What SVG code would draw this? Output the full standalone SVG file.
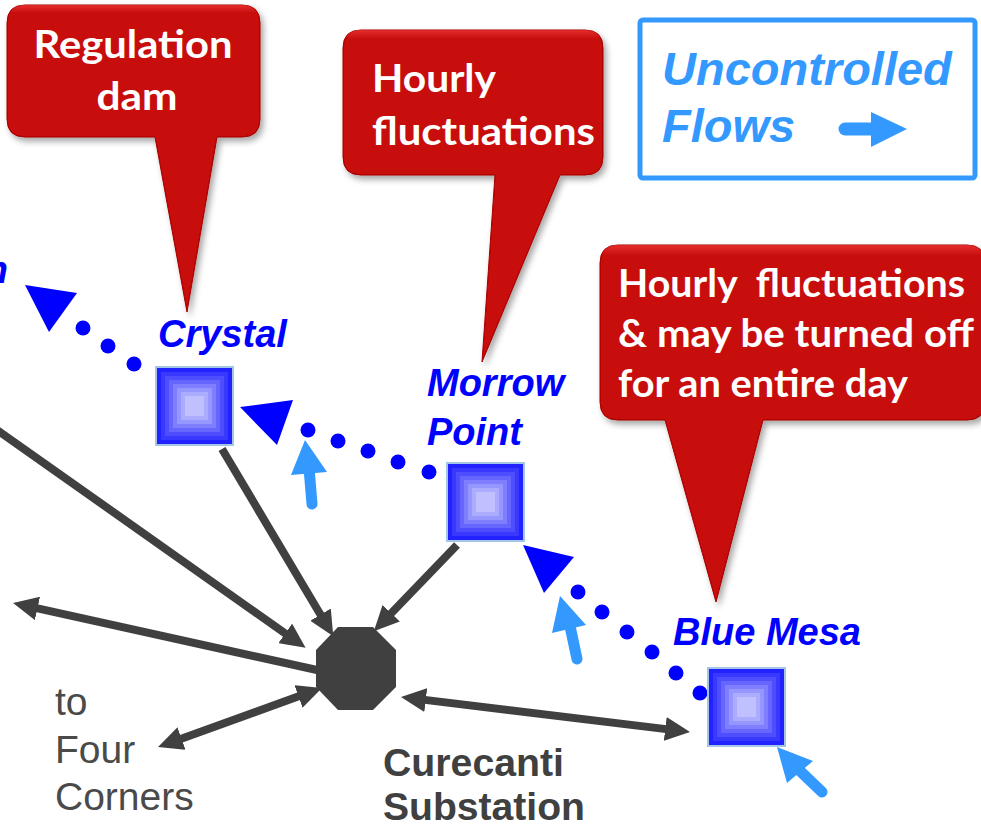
<svg xmlns="http://www.w3.org/2000/svg" width="981" height="829" viewBox="0 0 981 829">
<style>
.call{font-family:"Lato","Open Sans","Liberation Sans",sans-serif;font-weight:bold;font-size:39px;fill:#ffffff;white-space:pre}
.bubble{fill:#c80707;stroke:#a30000;stroke-width:1;filter:url(#shadow)}
.dlabel{font-family:"Liberation Sans",Arial,sans-serif;font-weight:bold;font-style:italic;font-size:38px;fill:#0000ff}
.leg{font-family:"Liberation Sans",Arial,sans-serif;font-weight:bold;font-style:italic;font-size:47px;fill:#3399ff}
.gray{font-family:"Liberation Sans",Arial,sans-serif;font-size:39px;fill:#4a4a4a}
.grayb{font-family:"Liberation Sans",Arial,sans-serif;font-weight:bold;font-size:38px;fill:#404040}
.wire{stroke:#404040;stroke-width:8;fill:none}
.dot{fill:#0000ff}
.flowhead{fill:#0000ff}
.ushaft{stroke:#3399ff;stroke-width:11;stroke-linecap:round;fill:none}
.uhead{fill:#3399ff}
</style>
<defs>
<filter id="shadow" x="-10%" y="-10%" width="130%" height="130%">
<feDropShadow dx="3" dy="4" stdDeviation="3" flood-color="#000" flood-opacity="0.35"/>
</filter>
<linearGradient id="hl" x1="0" y1="0" x2="0" y2="1">
<stop offset="0" stop-color="#ff4a4a" stop-opacity="0.55"/>
<stop offset="0.06" stop-color="#ff4a4a" stop-opacity="0"/>
<stop offset="1" stop-color="#ff4a4a" stop-opacity="0"/>
</linearGradient>
<marker id="ah" markerUnits="userSpaceOnUse" markerWidth="25" markerHeight="24" viewBox="0 0 25 24" refX="1" refY="12" orient="auto-start-reverse">
<path d="M0,0 L25,12 L0,24 Z" fill="#404040"/>
</marker>
<g id="damIcon">
<rect x="0" y="0" width="79" height="80" fill="#a3c6e6"/>
<rect x="2" y="2" width="75" height="76" fill="#2222ff"/>
<rect x="6" y="6" width="67" height="68" fill="#3838ff"/>
<rect x="10" y="10" width="59" height="60" fill="#4e4eff"/>
<rect x="14" y="14" width="51" height="52" fill="#6666ff"/>
<rect x="18" y="18" width="43" height="44" fill="#7e7eff"/>
<rect x="22" y="22" width="35" height="36" fill="#9696ff"/>
<rect x="26" y="26" width="27" height="28" fill="#acacff"/>
<rect x="30" y="30" width="19" height="20" fill="#c0c0ff"/>
</g>
</defs>

<rect x="0" y="0" width="981" height="829" fill="#ffffff"/>

<g id="callout-regulation">
<path class="bubble" d="M25,5 H242 Q260,5 260,23 V119 Q260,137 242,137 H217 L187,312 L155,137 H25 Q7,137 7,119 V23 Q7,5 25,5 Z"/>
<path d="M25,5 H242 Q260,5 260,23 V119 Q260,137 242,137 H25 Q7,137 7,119 V23 Q7,5 25,5 Z" fill="url(#hl)"/>
<text class="call" x="133" y="58" text-anchor="middle" textLength="199" lengthAdjust="spacingAndGlyphs">Regulation</text>
<text class="call" x="137" y="110" text-anchor="middle" textLength="81" lengthAdjust="spacingAndGlyphs">dam</text>
</g>

<g id="callout-hourly">
<path class="bubble" d="M361,30 H585 Q603,30 603,48 V157 Q603,175 585,175 H560 L482,362 L495,175 H361 Q343,175 343,157 V48 Q343,30 361,30 Z"/>
<path d="M361,30 H585 Q603,30 603,48 V157 Q603,175 585,175 H361 Q343,175 343,157 V48 Q343,30 361,30 Z" fill="url(#hl)"/>
<text class="call" x="372" y="92" textLength="124" lengthAdjust="spacingAndGlyphs">Hourly</text>
<text class="call" x="372" y="145" textLength="223" lengthAdjust="spacingAndGlyphs">fluctuations</text>
</g>

<g id="callout-bluemesa">
<path class="bubble" d="M618,245 H967 Q985,245 985,263 V402 Q985,420 967,420 H763 L716,602 L665,420 H618 Q600,420 600,402 V263 Q600,245 618,245 Z"/>
<path d="M618,245 H967 Q985,245 985,263 V402 Q985,420 967,420 H618 Q600,420 600,402 V263 Q600,245 618,245 Z" fill="url(#hl)"/>
<text class="call" x="618" y="297" textLength="347" lengthAdjust="spacingAndGlyphs">Hourly  fluctuations</text>
<text class="call" x="618" y="347" textLength="356" lengthAdjust="spacingAndGlyphs">&amp; may be turned off</text>
<text class="call" x="618" y="397" textLength="290" lengthAdjust="spacingAndGlyphs">for an entire day</text>
</g>

<g id="legend">
<rect x="640" y="20" width="335" height="158" rx="3" fill="#ffffff" stroke="#3399ff" stroke-width="5"/>
<text class="leg" x="662" y="85">Uncontrolled</text>
<text class="leg" x="662" y="142">Flows</text>
<line class="ushaft" x1="845" y1="129" x2="875" y2="129" style="stroke-width:13"/>
<polygon class="uhead" points="871,112 907,129 871,147"/>
</g>

<g id="connectors">
<line class="wire" x1="-5" y1="428.5" x2="286" y2="634" marker-end="url(#ah)"/>
<line class="wire" x1="222" y1="449" x2="321" y2="615.5" marker-end="url(#ah)"/>
<line class="wire" x1="457" y1="545" x2="390.5" y2="614" marker-end="url(#ah)"/>
<line class="wire" x1="317" y1="670" x2="36.5" y2="608.2" marker-end="url(#ah)"/>
<line class="wire" x1="180.6" y1="738.9" x2="299.4" y2="696.1" marker-start="url(#ah)" marker-end="url(#ah)"/>
<line class="wire" x1="424.8" y1="699.9" x2="666.2" y2="729.1" marker-start="url(#ah)" marker-end="url(#ah)"/>

<polygon class="flowhead" points="25,285 77,293 49,332"/>
<circle class="dot" cx="83" cy="328" r="7.5"/>
<circle class="dot" cx="108" cy="346" r="7.5"/>
<circle class="dot" cx="134" cy="364" r="7.5"/>

<polygon class="flowhead" points="240,407 293,400 277,445"/>
<circle class="dot" cx="308" cy="430" r="7.5"/>
<circle class="dot" cx="338" cy="441" r="7.5"/>
<circle class="dot" cx="368" cy="451" r="7.5"/>
<circle class="dot" cx="398" cy="462" r="7.5"/>
<circle class="dot" cx="429" cy="472" r="7.5"/>

<polygon class="flowhead" points="523,545 574,557 544,593"/>
<circle class="dot" cx="578" cy="592" r="7.5"/>
<circle class="dot" cx="602" cy="612" r="7.5"/>
<circle class="dot" cx="627" cy="632" r="7.5"/>
<circle class="dot" cx="652" cy="652" r="7.5"/>
<circle class="dot" cx="676" cy="673" r="7.5"/>
<circle class="dot" cx="700" cy="693" r="7.5"/>

<line class="ushaft" x1="312" y1="504" x2="309" y2="468"/>
<polygon class="uhead" points="305,440 291,475 327,472"/>
<line class="ushaft" x1="577" y1="659" x2="570" y2="626"/>
<polygon class="uhead" points="560,596 552,633 586,625"/>
<line class="ushaft" x1="822" y1="792" x2="798" y2="769"/>
<polygon class="uhead" points="777,747 787,783 813,761"/>
</g>

<g id="node-crystal">
<use href="#damIcon" x="155" y="366"/>
<text class="dlabel" x="158" y="347">Crystal</text>
</g>
<g id="node-morrow-point">
<use href="#damIcon" x="446" y="462"/>
<text class="dlabel" x="427" y="396">Morrow</text>
<text class="dlabel" x="427" y="445">Point</text>
</g>
<g id="node-blue-mesa">
<use href="#damIcon" x="707" y="667"/>
<text class="dlabel" x="673" y="645">Blue Mesa</text>
</g>
<g id="node-offscreen-dam">
<text class="dlabel" x="8" y="283" text-anchor="end">n</text>
</g>

<g id="node-curecanti">
<polygon points="338,627 373,627 396,650 396,687 373,710 338,710 316,687 316,650" fill="#404040"/>
<text class="grayb" x="383" y="776" textLength="181" lengthAdjust="spacingAndGlyphs">Curecanti</text>
<text class="grayb" x="383" y="820" textLength="202" lengthAdjust="spacingAndGlyphs">Substation</text>
</g>

<g id="label-four-corners">
<text class="gray" x="55" y="715">to</text>
<text class="gray" x="55" y="763">Four</text>
<text class="gray" x="55" y="810">Corners</text>
</g>
</svg>
